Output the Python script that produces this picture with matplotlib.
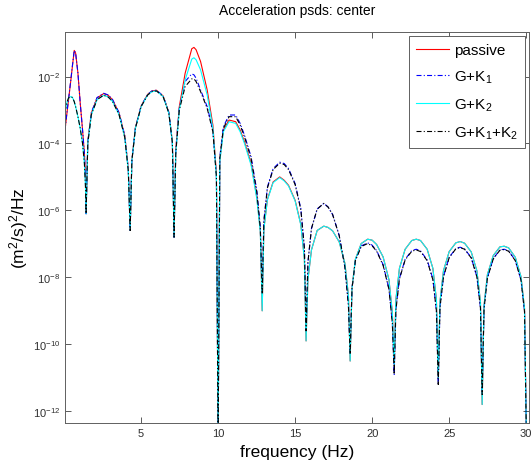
import numpy as np
import matplotlib
matplotlib.use("Agg")
import matplotlib.pyplot as plt

plt.rcParams['font.family'] = ['Liberation Sans', 'DejaVu Sans']
plt.rcParams['mathtext.default'] = 'regular'

# frequency grid (Hz): lobe points between the notches
freq = [0.06, 0.2, 0.3, 0.45, 0.55, 0.66, 0.75, 0.9, 1.05, 1.2, 1.32, 1.39, 1.43,
        1.54, 1.77, 2.14, 2.57, 2.86, 3.14, 3.57, 3.94, 4.17, 4.29,
        4.40, 4.63, 5.00, 5.43, 5.71, 6.00, 6.43, 6.80, 7.03, 7.14,
        7.25, 7.48, 7.86, 8.29, 8.43, 8.57, 8.86, 9.29, 9.66, 9.89, 10.0,
        10.11, 10.34, 10.71, 11.14, 11.43, 11.71, 12.14, 12.51, 12.74, 12.86,
        12.97, 13.20, 13.57, 14.00, 14.29, 14.57, 15.00, 15.37, 15.60, 15.71,
        15.83, 16.06, 16.43, 16.86, 17.14, 17.43, 17.86, 18.23, 18.46, 18.57,
        18.69, 18.91, 19.29, 19.71, 20.00, 20.29, 20.71, 21.09, 21.31, 21.43,
        21.54, 21.77, 22.14, 22.57, 22.86, 23.14, 23.57, 23.94, 24.17, 24.29,
        24.40, 24.63, 25.00, 25.43, 25.71, 26.00, 26.43, 26.80, 27.03, 27.14,
        27.26, 27.48, 27.86, 28.29, 28.57, 28.86, 29.29, 29.66, 29.89, 30.0]

# log10 of the psd values, (m^2/s)^2/Hz
passive_log = [-3.6, -3.04, -2.66, -2.07, -1.66, -1.22, -1.3, -1.9, -2.8, -3.6, -4.3, -5.0, -6.1,
               -3.95, -3.09, -2.64, -2.51, -2.56, -2.69, -3.09, -3.77, -4.77, -6.6,
               -4.51, -3.53, -2.88, -2.53, -2.43, -2.41, -2.58, -3.07, -3.95, -6.8,
               -4.2, -2.9, -1.9, -1.17, -1.13, -1.2, -1.55, -2.4, -3.45, -4.9, -13.0,
               -4.5, -3.6, -3.3, -3.35, -3.6, -3.95, -4.6, -5.6, -6.6, -9.0,
               -6.55, -5.67, -5.15, -5.0, -5.1, -5.25, -5.7, -6.42, -7.45, -9.9,
               -8.07, -7.18, -6.6, -6.47, -6.51, -6.61, -6.94, -7.58, -8.55, -10.5,
               -8.33, -7.46, -6.99, -6.86, -6.89, -7.02, -7.39, -8.07, -9.06, -10.6,
               -8.66, -7.73, -7.16, -6.90, -6.86, -6.90, -7.16, -7.73, -8.66, -11.0,
               -8.73, -7.80, -7.23, -6.97, -6.93, -6.98, -7.24, -7.81, -8.74, -11.8,
               -8.85, -7.92, -7.35, -7.09, -7.07, -7.12, -7.40, -7.98, -8.93, -12.4]

gk1_log = [-3.6, -3.02, -2.64, -2.05, -1.64, -1.22, -1.3, -1.9, -2.8, -3.6, -4.3, -5.0, -6.1,
           -3.95, -3.08, -2.63, -2.5, -2.55, -2.68, -3.08, -3.76, -4.76, -6.6,
           -4.51, -3.53, -2.88, -2.53, -2.43, -2.41, -2.58, -3.07, -3.95, -6.8,
           -4.2, -2.95, -2.15, -1.92, -1.95, -2.05, -2.4, -2.9, -3.6, -5.0, -13.0,
           -4.4, -3.5, -3.15, -3.15, -3.4, -3.75, -4.4, -5.4, -6.5, -8.5,
           -6.3, -5.3, -4.75, -4.56, -4.6, -4.75, -5.2, -5.95, -7.1, -9.6,
           -7.55, -6.54, -5.96, -5.79, -5.9, -6.12, -6.75, -7.69, -8.85, -10.3,
           -8.32, -7.48, -7.06, -6.97, -7.04, -7.2, -7.62, -8.34, -9.36, -10.9,
           -8.96, -8.03, -7.46, -7.2, -7.16, -7.21, -7.48, -8.05, -8.98, -11.2,
           -8.9, -7.97, -7.4, -7.14, -7.1, -7.15, -7.41, -7.98, -8.91, -11.5,
           -8.94, -8.01, -7.44, -7.18, -7.16, -7.21, -7.49, -8.07, -9.02, -12.4]

gk2_log = [-3.05, -2.75, -2.63, -2.6, -2.63, -2.75, -2.9, -3.2, -3.55, -4.0, -4.6, -5.3, -6.1,
           -4.0, -3.14, -2.69, -2.56, -2.61, -2.74, -3.14, -3.82, -4.82, -6.6,
           -4.53, -3.55, -2.9, -2.55, -2.45, -2.43, -2.6, -3.09, -3.97, -6.8,
           -4.3, -3.0, -2.1, -1.48, -1.44, -1.5, -1.8, -2.55, -3.55, -5.0, -13.0,
           -4.55, -3.65, -3.35, -3.4, -3.65, -4.0, -4.65, -5.65, -6.65, -9.0,
           -6.57, -5.69, -5.17, -5.02, -5.12, -5.27, -5.72, -6.44, -7.47, -9.9,
           -8.07, -7.18, -6.6, -6.47, -6.51, -6.61, -6.94, -7.58, -8.55, -10.5,
           -8.33, -7.46, -6.99, -6.86, -6.89, -7.02, -7.39, -8.07, -9.06, -10.6,
           -8.66, -7.73, -7.16, -6.90, -6.86, -6.90, -7.16, -7.73, -8.66, -11.0,
           -8.73, -7.80, -7.23, -6.97, -6.93, -6.98, -7.24, -7.81, -8.74, -11.8,
           -8.85, -7.92, -7.35, -7.09, -7.07, -7.12, -7.40, -7.98, -8.93, -12.4]

gk1k2_log = [-3.05, -2.75, -2.63, -2.6, -2.63, -2.75, -2.9, -3.2, -3.55, -4.0, -4.6, -5.3, -6.1,
             -4.0, -3.14, -2.69, -2.56, -2.61, -2.74, -3.14, -3.82, -4.82, -6.6,
             -4.53, -3.55, -2.9, -2.55, -2.45, -2.43, -2.6, -3.09, -3.97, -6.8,
             -4.3, -3.0, -2.3, -2.07, -2.07, -2.15, -2.45, -2.95, -3.65, -5.0, -13.0,
             -4.45, -3.55, -3.2, -3.2, -3.45, -3.8, -4.45, -5.45, -6.55, -8.5,
             -6.33, -5.33, -4.78, -4.59, -4.63, -4.78, -5.23, -5.98, -7.13, -9.6,
             -7.55, -6.54, -5.96, -5.79, -5.9, -6.12, -6.75, -7.69, -8.85, -10.3,
             -8.34, -7.50, -7.08, -6.99, -7.06, -7.22, -7.64, -8.36, -9.38, -10.9,
             -8.98, -8.05, -7.48, -7.22, -7.18, -7.23, -7.5, -8.07, -9.0, -11.2,
             -8.91, -7.98, -7.41, -7.15, -7.11, -7.16, -7.42, -7.99, -8.92, -11.5,
             -8.95, -8.02, -7.45, -7.19, -7.17, -7.22, -7.5, -8.08, -9.03, -12.4]

labels = ['passive', 'G+K$_1$', 'G+K$_2$', 'G+K$_1$+K$_2$']
yticks = [1e-12, 1e-10, 1e-8, 1e-6, 1e-4, 1e-2]
xticks = [5, 10, 15, 20, 25, 30]

dashdot = (0, (4.5, 2, 1, 2))

fig = plt.figure(figsize=(5.31, 4.64), dpi=100)
ax = fig.add_axes([0.1224, 0.0856, 0.8744, 0.8440])

f = np.array(freq)
ax.plot(f, 10.0 ** np.array(passive_log), color='red', lw=0.8, label=labels[0])
ax.plot(f, 10.0 ** np.array(gk1_log), color='blue', lw=0.8, ls=dashdot, label=labels[1])
ax.plot(f, 10.0 ** np.array(gk2_log), color='cyan', lw=0.8, label=labels[2])
ax.plot(f, 10.0 ** np.array(gk1k2_log), color='black', lw=0.8, ls=dashdot, label=labels[3])

ax.set_yscale('log')
ax.set_xlim(0.06, 30.2)
ax.set_ylim(10 ** -12.36, 10 ** -0.66)
ax.set_yticks(yticks)
ax.yaxis.set_minor_locator(matplotlib.ticker.NullLocator())
ax.set_xticks(xticks)

ax.tick_params(direction='in', top=True, right=True, length=4, width=0.6,
               labelsize=8, colors='#404040', labelcolor='#303030')
for s in ax.spines.values():
    s.set_color('#606060')
    s.set_linewidth(0.7)

ax.set_title('Acceleration psds: center', fontsize=10, pad=13)
ax.set_xlabel('frequency (Hz)', fontsize=12.5, labelpad=4)
ax.set_ylabel('(m$^2$/s)$^2$/Hz', fontsize=12.5, labelpad=2)

leg = ax.legend(loc='upper right', fontsize=11, handlelength=2.2, handletextpad=0.3,
                labelspacing=0.75, borderpad=0.45, fancybox=False, framealpha=1,
                borderaxespad=0.3)
leg.get_frame().set_edgecolor('#606060')
leg.get_frame().set_linewidth(0.7)

fig.savefig('out.png', dpi=100)
